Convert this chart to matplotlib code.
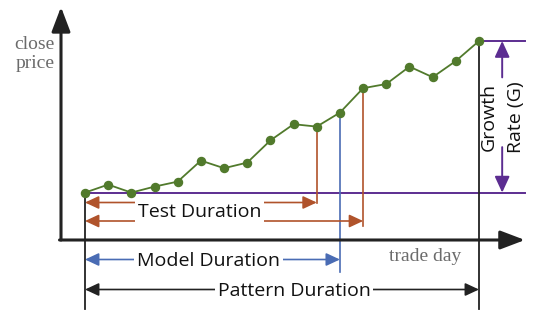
#!/usr/bin/env python3
# -*- coding: utf-8 -*-
"""
    pattern.py
    Schematic of a price pattern: test, model and pattern durations
    and the growth rate between first and last close price.
"""

import matplotlib
matplotlib.use("Agg")
import matplotlib.pyplot as plt

# Close price for each trade day of the pattern
DAYS = list(range(18))
PRICES = [10.37, 10.77, 10.37, 10.67, 10.92, 11.97, 11.59, 11.87, 12.98,
          13.79, 13.67, 14.37, 15.59, 15.80, 16.67, 16.14, 16.95, 17.95]

# Last day of each duration
TEST_ENDS = [10, 12]
MODEL_END = 11
PATTERN_END = 17

GREEN = '#517a2c'
ORANGE = '#b0532b'
BLUE = '#4a6cb4'
PURPLE = '#5c2d91'
DARK = '#222222'
GREY = '#6b6b6b'

SANS = 'Open Sans'
SERIF = 'Liberation Serif'


def duration_arrow(ax, x0, x1, y, color, text, text_x, text_y):
    # double headed arrow with its label on a white patch
    ax.annotate('', xy=(x1, y), xytext=(x0, y),
                arrowprops=dict(arrowstyle='<|-|>,head_length=0.6,head_width=0.28',
                                mutation_scale=14, color=color, lw=1.2,
                                shrinkA=0, shrinkB=0))
    if text:
        ax.text(text_x, text_y, text, ha='center', va='center',
                fontsize=14, family=SANS, color='#111111', zorder=5,
                bbox=dict(boxstyle='square,pad=0.15', fc='white', ec='none'))


def main():
    fig = plt.figure(figsize=(5.34, 3.10), dpi=100)
    ax = fig.add_axes([0, 0, 1, 1])
    ax.set_xlim(-3.667, 19.373)
    ax.set_ylim(4.5, 20)
    ax.axis('off')

    first = PRICES[0]
    last = PRICES[-1]

    # axes drawn as arrows
    ax.annotate('', xy=(-1.035, 19.65), xytext=(-1.035, 8.0),
                arrowprops=dict(arrowstyle='-|>,head_length=1.0,head_width=0.38',
                                mutation_scale=15, color=DARK, lw=2.2,
                                shrinkA=0, shrinkB=0))
    ax.annotate('', xy=(18.98, 8.0), xytext=(-1.1, 8.0),
                arrowprops=dict(arrowstyle='-|>,head_length=1.0,head_width=0.38',
                                mutation_scale=15, color=DARK, lw=2.2,
                                shrinkA=0, shrinkB=0))
    ax.text(-1.3, 17.32, 'close\nprice', ha='right', va='center',
            multialignment='right', fontsize=14, family=SERIF, color=GREY,
            linespacing=1.15)
    ax.text(14.67, 7.17, 'trade day', ha='center', va='center',
            fontsize=14, family=SERIF, color=GREY)

    # first and last price levels
    ax.plot([DAYS[0], 18.98], [first, first], color=PURPLE, lw=1.4, zorder=2)
    ax.plot([DAYS[-1], 18.98], [last, last], color=PURPLE, lw=1.4, zorder=2)

    # growth rate arrow, split around its label
    mid = (first + last) / 2
    span = last - first
    for end, start in [(last, mid + 0.26 * span), (first, mid - 0.2 * span)]:
        ax.annotate('', xy=(18.0, end), xytext=(18.0, start),
                    arrowprops=dict(arrowstyle='-|>,head_length=0.65,head_width=0.3',
                                    mutation_scale=15, color=PURPLE, lw=1.4,
                                    shrinkA=0, shrinkB=0))
    ax.text(18.01, mid, 'Growth\nRate (G)', rotation=90, ha='center',
            va='center', multialignment='center', fontsize=14, family=SANS,
            color='#111111', linespacing=1.7)

    # vertical markers down from the series
    ax.plot([DAYS[0], DAYS[0]], [first, 4.55], color=DARK, lw=1.3, zorder=2)
    ax.plot([PATTERN_END, PATTERN_END], [last, 4.55], color=DARK, lw=1.3, zorder=2)
    ax.plot([MODEL_END, MODEL_END], [PRICES[MODEL_END], 6.4], color=BLUE,
            lw=1.2, zorder=2)
    ax.plot([TEST_ENDS[0]] * 2, [PRICES[TEST_ENDS[0]], 9.85], color=ORANGE,
            lw=1.2, zorder=2)
    ax.plot([TEST_ENDS[1]] * 2, [PRICES[TEST_ENDS[1]], 8.7], color=ORANGE,
            lw=1.2, zorder=2)

    # the price series
    ax.plot(DAYS, PRICES, color=GREEN, lw=1.3, marker='o', ms=5.8,
            mfc=GREEN, mec=GREEN, zorder=4)

    # duration arrows
    duration_arrow(ax, DAYS[0], TEST_ENDS[0], 9.875, ORANGE, '', 0, 0)
    duration_arrow(ax, DAYS[0], TEST_ENDS[1], 8.95, ORANGE,
                   'Test Duration', 4.94, 9.4)
    duration_arrow(ax, DAYS[0], MODEL_END, 7.025, BLUE,
                   'Model Duration', 5.32, 6.95)
    duration_arrow(ax, DAYS[0], PATTERN_END, 5.525, DARK,
                   'Pattern Duration', 9.02, 5.45)

    fig.savefig('out.png', dpi=100)


main()
